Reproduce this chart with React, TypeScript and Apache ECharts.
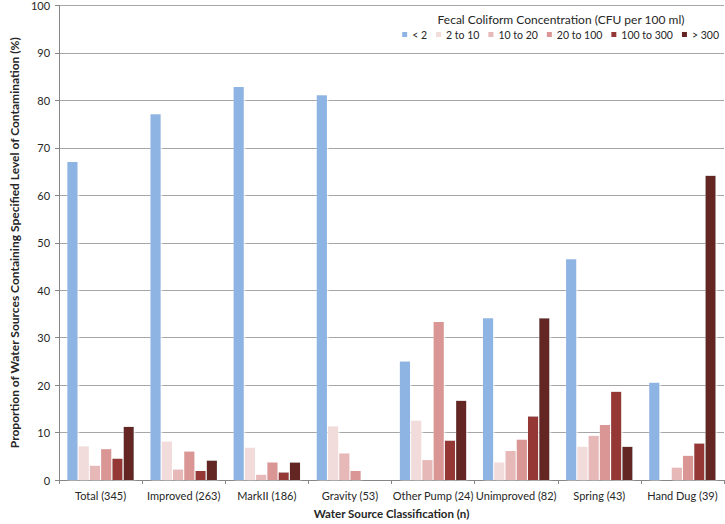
import React, { useEffect, useRef } from "react";
import * as echarts from "echarts";

const categories = [
  "Total (345)",
  "Improved (263)",
  "MarkII (186)",
  "Gravity (53)",
  "Other Pump (24)",
  "Unimproved (82)",
  "Spring (43)",
  "Hand Dug (39)",
];

const seriesNames = ["< 2", "2 to 10", "10 to 20", "20 to 100", "100 to 300", "> 300"];
const seriesColors = ["#8DB4E2", "#F2DCDB", "#E6B9B8", "#D99694", "#953735", "#632523"];

const lt2 = [67.0, 77.1, 82.8, 81.1, 25.0, 34.1, 46.5, 20.5];
const from2to10 = [7.1, 8.1, 6.8, 11.3, 12.5, 3.7, 7.0, 0];
const from10to20 = [3.0, 2.2, 1.1, 5.6, 4.2, 6.1, 9.3, 2.6];
const from20to100 = [6.5, 6.0, 3.7, 1.9, 33.3, 8.5, 11.6, 5.1];
const from100to300 = [4.5, 1.9, 1.6, 0, 8.3, 13.4, 18.6, 7.7];
const gt300 = [11.2, 4.1, 3.7, 0, 16.7, 34.1, 7.0, 64.1];

const seriesData = [lt2, from2to10, from10to20, from20to100, from100to300, gt300];

const font = "Lato, 'Noto Sans', sans-serif";
const textColor = "#262626";

export default function App() {
  const ref = useRef<HTMLDivElement>(null);
  useEffect(() => {
    if (!ref.current) return;
    const chart = echarts.init(ref.current, undefined, { renderer: "svg" });
    chart.setOption({
      animation: false,
      backgroundColor: "#ffffff",
      textStyle: { fontFamily: font },
      grid: { left: 43, right: 1, top: 5, bottom: 40, containLabel: false },
      graphic: [
        {
          type: "text",
          x: 561,
          y: 19,
          style: {
            text: "Fecal Coliform Concentration (CFU per 100 ml)",
            font: `12px ${font}`,
            fill: textColor,
            align: "center",
            verticalAlign: "middle",
            backgroundColor: "#ffffff",
          },
        },
      ],
      legend: {
        right: 6,
        top: 29,
        icon: "rect",
        itemWidth: 5,
        itemHeight: 5,
        itemGap: 9,
        data: seriesNames,
        textStyle: { fontSize: 10.5, color: textColor, fontFamily: font },
        backgroundColor: "#ffffff",
        padding: 0,
      },
      xAxis: {
        type: "category",
        data: categories,
        name: "Water Source Classification (n)",
        nameLocation: "middle",
        nameGap: 27,
        nameTextStyle: { fontWeight: "bold", fontSize: 11.5, color: textColor, fontFamily: font },
        axisLine: { lineStyle: { color: "#868686" } },
        axisTick: { show: true, length: 4, lineStyle: { color: "#868686" } },
        axisLabel: { fontSize: 11, color: textColor, margin: 10, interval: 0 },
      },
      yAxis: {
        type: "value",
        min: 0,
        max: 100,
        interval: 10,
        name: "Proportion of Water Sources Containing Specified Level of Contamination (%)",
        nameLocation: "middle",
        nameGap: 34,
        nameTextStyle: { fontWeight: "bold", fontSize: 12, color: textColor, fontFamily: font },
        axisLine: { show: true, lineStyle: { color: "#868686" } },
        axisTick: { show: true, length: 4, lineStyle: { color: "#868686" } },
        axisLabel: { fontSize: 11, color: textColor, margin: 9 },
        splitLine: { lineStyle: { color: "#A6A6A6" } },
      },
      series: seriesNames.map((name, i) => ({
        name,
        type: "bar",
        data: seriesData[i],
        barGap: "10%",
        barCategoryGap: "20%",
        itemStyle: {
          color: seriesColors[i],
          shadowColor: "rgba(255,255,255,0.9)",
          shadowBlur: 2,
          shadowOffsetX: 1,
        },
      })),
    });
    return () => chart.dispose();
  }, []);
  return <div ref={ref} style={{ width: 725, height: 524, position: "absolute", left: 0, top: 0 }} />;
}
